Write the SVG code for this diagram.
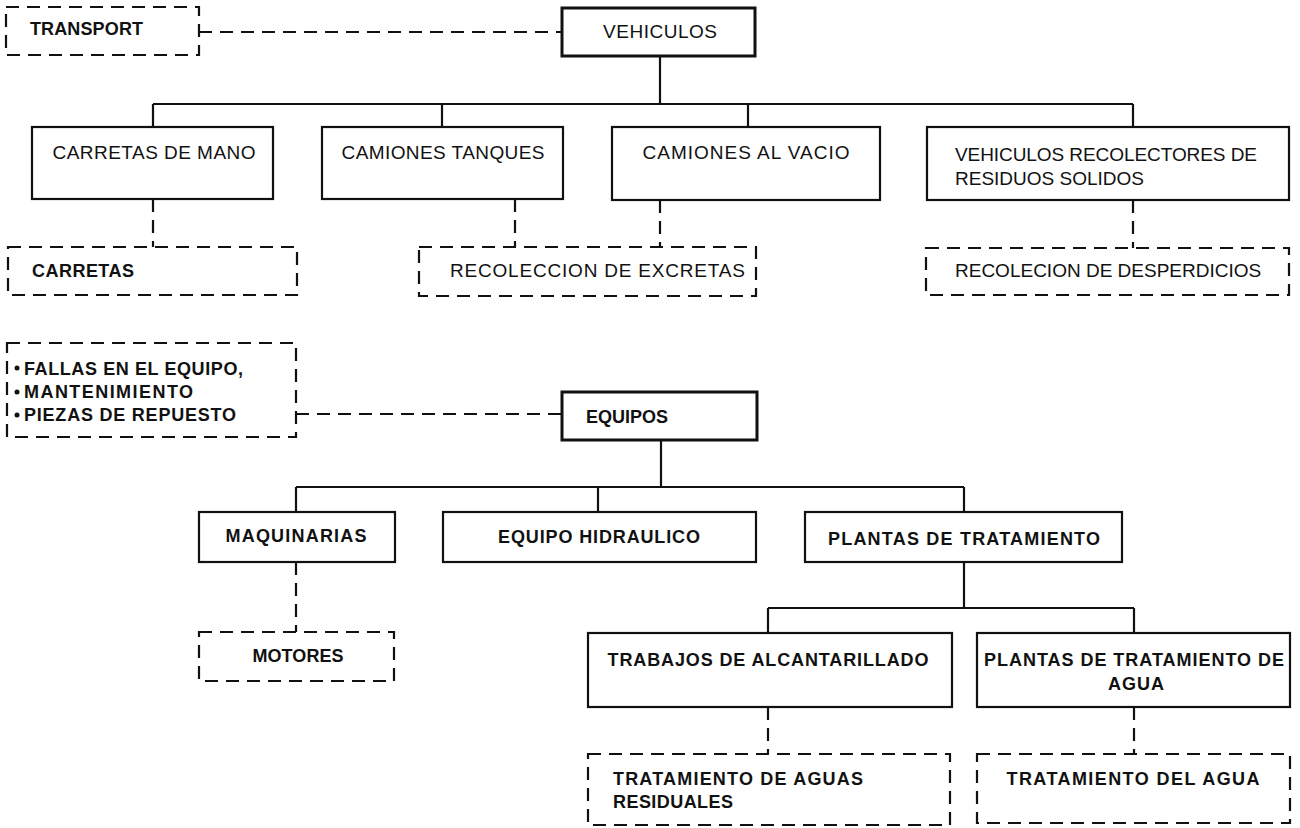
<svg xmlns="http://www.w3.org/2000/svg" width="1300" height="828" viewBox="0 0 1300 828">
<style>
.box{fill:#fff;stroke:#111;stroke-width:2.2}
.thick{fill:#fff;stroke:#111;stroke-width:3}
.dbox{fill:none;stroke:#111;stroke-width:2.2;stroke-dasharray:13 8}
.ln{fill:none;stroke:#111;stroke-width:2.2}
.dl{fill:none;stroke:#111;stroke-width:2.2;stroke-dasharray:13 8}
text{font-family:"Liberation Sans",Arial,sans-serif;font-size:19px;fill:#111}
.b{font-weight:bold;font-size:18px}
.m{text-anchor:middle}
</style>
<rect width="1300" height="828" fill="#fff"/>
<g id="connectors">
<path class="dl" d="M199 32H562"/>
<path class="ln" d="M660 56V104M153 104H1133M153 104V127M442 104V127M748 104V127M1133 104V127"/>
<path class="dl" d="M153 199V247M515 199V247M660 200V247M1133 200V248"/>
<path class="dl" d="M296 414H562"/>
<path class="ln" d="M661 440V487M296 487H964M296 487V512M598 487V512M964 487V512"/>
<path class="ln" d="M964 562V608M768 608H1134M768 608V633M1134 608V633"/>
<path class="dl" d="M296 562V632M768 707V754M1134 707V754"/>
</g>
<g id="transport"><rect class="dbox" x="6" y="7" width="193" height="48"/><text class="b" x="30" y="35" textLength="113" lengthAdjust="spacing">TRANSPORT</text></g>
<g id="vehiculos"><rect class="thick" x="562" y="8" width="193" height="48"/><text class="m" x="660" y="38" textLength="114" lengthAdjust="spacing">VEHICULOS</text></g>
<g id="carretas-de-mano"><rect class="box" x="32" y="127" width="241" height="72"/><text class="m" x="154" y="159" textLength="203" lengthAdjust="spacing">CARRETAS DE MANO</text></g>
<g id="camiones-tanques"><rect class="box" x="322" y="127" width="241" height="72"/><text class="m" x="443" y="159" textLength="203" lengthAdjust="spacing">CAMIONES TANQUES</text></g>
<g id="camiones-al-vacio"><rect class="box" x="612" y="127" width="268" height="73"/><text class="m" x="746" y="159" textLength="207" lengthAdjust="spacing">CAMIONES AL VACIO</text></g>
<g id="vehiculos-recolectores"><rect class="box" x="927" y="127" width="362" height="73"/><text x="955" y="161" textLength="302" lengthAdjust="spacing">VEHICULOS RECOLECTORES DE</text><text x="955" y="185">RESIDUOS SOLIDOS</text></g>
<g id="carretas"><rect class="dbox" x="8" y="247" width="289" height="48"/><text class="b" x="32" y="277" textLength="102" lengthAdjust="spacing">CARRETAS</text></g>
<g id="recoleccion-excretas"><rect class="dbox" x="419" y="247" width="337" height="49"/><text x="450" y="277" textLength="295" lengthAdjust="spacing">RECOLECCION DE EXCRETAS</text></g>
<g id="recolecion-desperdicios"><rect class="dbox" x="926" y="248" width="363" height="47"/><text x="955" y="277">RECOLECION DE DESPERDICIOS</text></g>
<g id="fallas"><rect class="dbox" x="7" y="343" width="289" height="94"/>
<circle cx="17" cy="368" r="2.5" fill="#111"/><circle cx="17" cy="392" r="2.5" fill="#111"/><circle cx="17" cy="415" r="2.5" fill="#111"/>
<text class="b" x="24" y="375" textLength="219" lengthAdjust="spacing">FALLAS EN EL EQUIPO,</text>
<text class="b" x="24" y="398" textLength="169" lengthAdjust="spacing">MANTENIMIENTO</text>
<text class="b" x="24" y="421" textLength="212" lengthAdjust="spacing">PIEZAS DE REPUESTO</text></g>
<g id="equipos"><rect class="thick" x="562" y="392" width="195" height="48"/><text class="b" x="586" y="423">EQUIPOS</text></g>
<g id="maquinarias"><rect class="box" x="199" y="512" width="196" height="50"/><text class="b m" x="296" y="542" textLength="141" lengthAdjust="spacing">MAQUINARIAS</text></g>
<g id="equipo-hidraulico"><rect class="box" x="443" y="512" width="313" height="50"/><text class="b m" x="599" y="543" textLength="202" lengthAdjust="spacing">EQUIPO HIDRAULICO</text></g>
<g id="plantas-tratamiento"><rect class="box" x="805" y="512" width="317" height="50"/><text class="b m" x="964" y="545" textLength="272" lengthAdjust="spacing">PLANTAS DE TRATAMIENTO</text></g>
<g id="motores"><rect class="dbox" x="199" y="632" width="195" height="49"/><text class="b m" x="298" y="662" textLength="91" lengthAdjust="spacing">MOTORES</text></g>
<g id="trabajos-alcantarillado"><rect class="box" x="588" y="633" width="364" height="74"/><text class="b m" x="768" y="666" textLength="321" lengthAdjust="spacing">TRABAJOS DE ALCANTARILLADO</text></g>
<g id="plantas-agua"><rect class="box" x="977" y="633" width="313" height="74"/><text class="b m" x="1134" y="666" textLength="300" lengthAdjust="spacing">PLANTAS DE TRATAMIENTO DE</text><text class="b m" x="1136" y="690" textLength="56" lengthAdjust="spacing">AGUA</text></g>
<g id="tratamiento-aguas-residuales"><rect class="dbox" x="588" y="754" width="362" height="71"/><text class="b" x="613" y="785" textLength="250" lengthAdjust="spacing">TRATAMIENTO DE AGUAS</text><text class="b" x="613" y="808" textLength="120" lengthAdjust="spacing">RESIDUALES</text></g>
<g id="tratamiento-agua"><rect class="dbox" x="977" y="754" width="313" height="69"/><text class="b m" x="1133" y="785" textLength="253" lengthAdjust="spacing">TRATAMIENTO DEL AGUA</text></g>
</svg>
